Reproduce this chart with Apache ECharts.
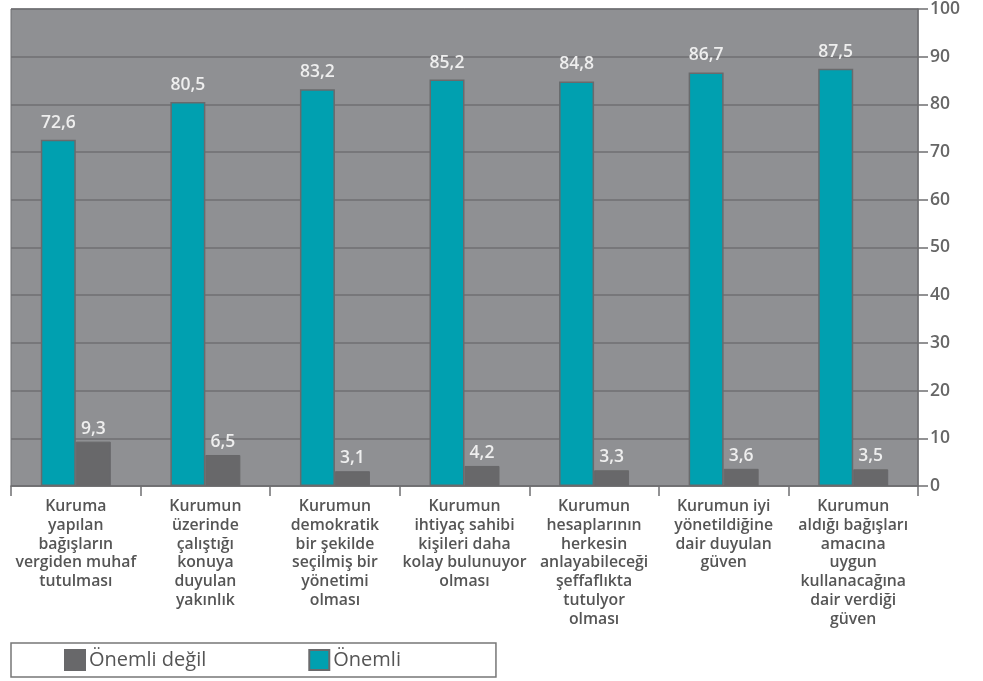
<!DOCTYPE html>
<html><head><meta charset="utf-8">
<script src="https://cdn.jsdelivr.net/npm/echarts@6/dist/echarts.min.js"></script>
<style>html,body{margin:0;padding:0;background:#fff}#c{width:983px;height:681px}</style>
</head><body><div id="c"></div>
<script>
const categories = [
  "Kuruma\nyapılan\nbağışların\nvergiden muhaf\ntutulması",
  "Kurumun\nüzerinde\nçalıştığı\nkonuya\nduyulan\nyakınlık",
  "Kurumun\ndemokratik\nbir şekilde\nseçilmiş bir\nyönetimi\nolması",
  "Kurumun\nihtiyaç sahibi\nkişileri daha\nkolay bulunuyor\nolması",
  "Kurumun\nhesaplarının\nherkesin\nanlayabileceği\nşeffaflıkta\ntutulyor\nolması",
  "Kurumun iyi\nyönetildiğine\ndair duyulan\ngüven",
  "Kurumun\naldığı bağışları\namacına\nuygun\nkullanacağına\ndair verdiği\ngüven"
];
const onemli = [72.6, 80.5, 83.2, 85.2, 84.8, 86.7, 87.5];
const onemliDegil = [9.3, 6.5, 3.1, 4.2, 3.3, 3.6, 3.5];
const yTicks = [0, 10, 20, 30, 40, 50, 60, 70, 80, 90, 100];

const FONT = '"Open Sans", sans-serif';
const fmt = p => String(p.value).replace('.', ',');
const chart = echarts.init(document.getElementById('c'));
chart.setOption({
  animation: false,
  textStyle: {fontFamily: FONT},
  grid: {left: 11, right: 65, top: 6, bottom: 195, show: true, backgroundColor: '#8f9093', borderColor: '#6f6f72', borderWidth: 1},
  legend: {
    data: ['Önemli değil', 'Önemli'],
    left: 11, top: 643,
    padding: [6, 95, 6, 53],
    itemGap: 102, itemWidth: 20, itemHeight: 20, icon: 'rect',
    borderColor: '#777', borderWidth: 1.5,
    textStyle: {fontFamily: FONT, fontSize: 20, fontWeight: 500, color: '#555', padding: [0, 0, 0, -1]}
  },
  xAxis: {
    type: 'category', data: categories,
    axisLine: {lineStyle: {color: '#6f6f72', width: 1.5}},
    axisTick: {show: true, length: 10, lineStyle: {color: '#6f6f72', width: 1.5}},
    axisLabel: {interval: 0, margin: 11, fontFamily: FONT, fontWeight: 600, fontSize: 15.8, lineHeight: 18.8, color: '#555'}
  },
  yAxis: {
    type: 'value', position: 'right', min: 0, max: 100, interval: 10,
    axisLine: {show: true, lineStyle: {color: '#6f6f72', width: 1.5}},
    axisTick: {show: true, length: 10, lineStyle: {color: '#6f6f72', width: 1.5}},
    splitLine: {lineStyle: {color: '#6f6f72', width: 1.5}},
    axisLabel: {margin: 12, fontFamily: FONT, fontWeight: 600, fontSize: 17.5, color: '#666',
      formatter: v => yTicks.includes(v) ? String(v) : ''}
  },
  series: [
    {name: 'Önemli', type: 'bar', data: onemli, barWidth: 35, barGap: '0%',
      itemStyle: {color: '#00a0b0', borderColor: '#6a6a6c', borderWidth: 1.5},
      label: {show: true, position: 'top', distance: 8, formatter: fmt, fontFamily: FONT, fontWeight: 600, fontSize: 17.5, color: '#eeeeee'}},
    {name: 'Önemli değil', type: 'bar', data: onemliDegil, barWidth: 35,
      itemStyle: {color: '#68686a', borderColor: '#68686a', borderWidth: 1},
      label: {show: true, position: 'top', distance: 4, formatter: fmt, fontFamily: FONT, fontWeight: 600, fontSize: 17.5, color: '#eeeeee'}}
  ]
});
</script></body></html>
